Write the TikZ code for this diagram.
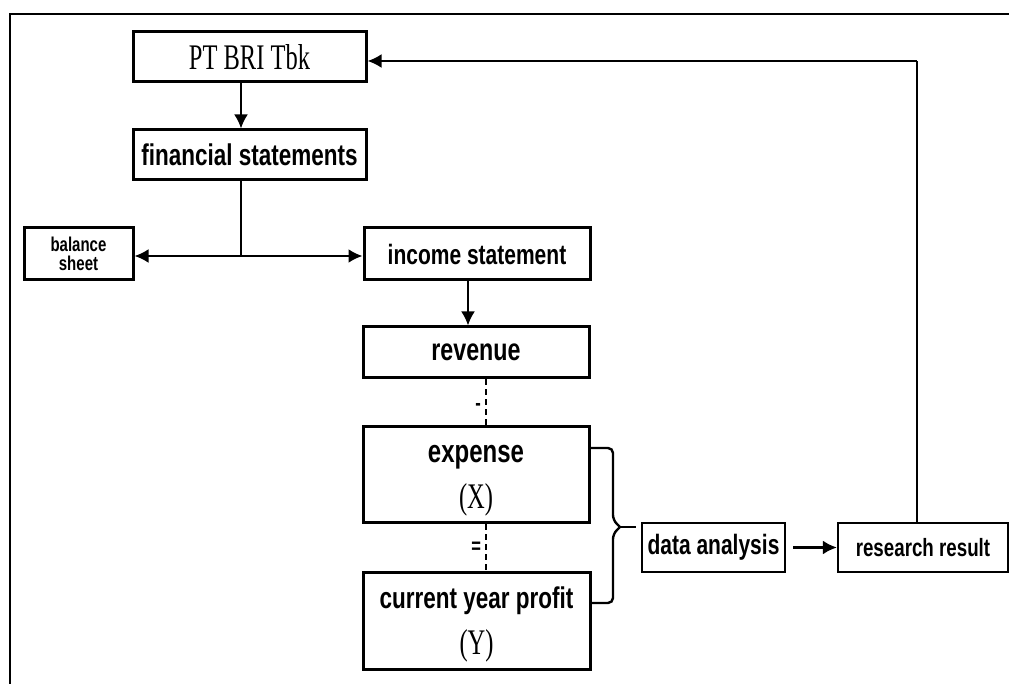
\documentclass[tikz,border=0pt]{standalone}
\usepackage{fontspec}
\newfontfamily\labfont[FakeStretch=0.75]{Liberation Sans}
\newfontfamily\serfont[FakeStretch=0.68]{Liberation Serif}
\usetikzlibrary{arrows.meta,calc}
\tikzset{
  post/.style     = {-{Latex[length=7pt,width=7pt]}, line width=1.2pt},
  link/.style     = {line width=0.8pt},
  dashlink/.style = {dash pattern=on 3pt off 2pt, line width=1.1pt},
  brace/.style    = {line width=1.2pt, rounded corners=2.5pt},
  frame/.style    = {line width=1pt},
  box/.style      = {draw, rectangle, line width=1.5pt, inner sep=0pt, align=center,
                     font=\labfont\bfseries\fontsize{#1}{23}\selectfont},
  box/.default    = 15,
  sign/.style     = {font=\labfont\bfseries\fontsize{11}{13}\selectfont, inner sep=2pt}
}

\begin{document}
\begin{tikzpicture}[x=0.5pt, y=-0.5pt]
      \useasboundingbox (0,0) rectangle (1009,684);
      \draw[frame] (1009,14) -- (10,14) -- (10,684);
      \node[box, minimum width=116.5pt, minimum height=25pt,
            font=\serfont\fontsize{18}{22}\selectfont] (bri) at (249.5,57) {PT BRI Tbk};
      \node[box, minimum width=116.5pt, minimum height=25pt] (fin) at (249.5,155) {financial statements};
      \node[box, minimum width=54.5pt, minimum height=26pt,
            font=\labfont\bfseries\fontsize{10}{9.5}\selectfont] (bal) at (78.5,254) {balance\\sheet};
      \node[box=14, minimum width=113pt, minimum height=26pt] (inc) at (477,254) {income statement};
      \node[box=15.5, minimum width=113pt, minimum height=25.5pt] (rev) at (476,352.5) {revenue};
      \node[box=16, minimum width=113pt, minimum height=48pt] (exp) at (476,475)
        {\rule{0pt}{14pt}expense\\{\serfont\mdseries\fontsize{18}{22}\selectfont (X)}};
      \node[box, minimum width=113.5pt, minimum height=48.5pt] (prof) at (476.5,621.5)
        {\rule{0pt}{14pt}current year profit\\{\serfont\mdseries\fontsize{18}{22}\selectfont (Y)}};
      \node[box=14, line width=1.2pt, minimum width=71.5pt, minimum height=24.5pt] (da) at (713.5,547.5) {data analysis};
      \node[box=12.5, line width=1.1pt, minimum width=85pt, minimum height=24.5pt] (rr) at (923,547.5) {research result};

      \draw[post] (241,0 |- bri.south) -- (241,0 |- fin.north);
      \coordinate (split) at (241,256);
      \draw[link] (241,0 |- fin.south) -- (split);
      \draw[post] (split) -- (bal.east |- split);
      \draw[post] (split) -- (inc.west |- split);
      \draw[post] (468,0 |- inc.south) -- (468,0 |- rev.north);
      \draw[dashlink] (486,0 |- rev.south) -- node[sign, left, pos=0.6] {-} (486,0 |- exp.north);
      \draw[dashlink] (486,0 |- exp.south) -- node[sign, left] {=} (486,0 |- prof.north);

      \coordinate (tip) at (620,527);
      \draw[brace] (exp.east |- 0,448) -- (613,448) -- (613,520) -- (tip);
      \draw[brace] (prof.east |- 0,603) -- (613,603) -- (613,534) -- (tip);
      \draw[brace] (tip) -- ($(da.west |- tip)+(-5,0)$);
      \draw[post] (da.east) ++(7,0) -- (rr.west);

      \coordinate (back) at (917,61);
      \draw[link] (917,0 |- rr.north) -- (back);
      \draw[post] (back) -- (bri.east |- back);
\end{tikzpicture}
\end{document}
